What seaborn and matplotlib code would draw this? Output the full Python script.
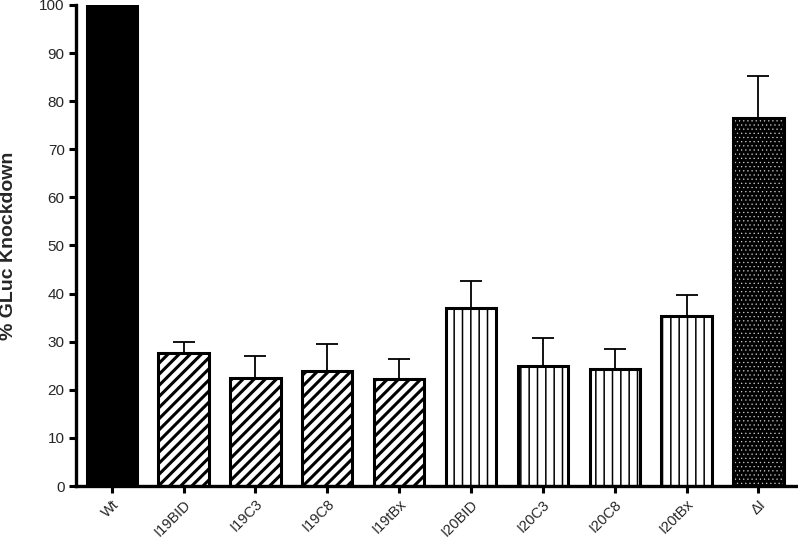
import numpy as np
import matplotlib
matplotlib.use("Agg")
import matplotlib.pyplot as plt
import seaborn as sns

# values
groups = ["Wt", "I19BID", "I19C3", "I19C8", "I19tBx",
          "I20BID", "I20C3", "I20C8", "I20tBx", "\u0394I"]
knockdown = [100.0, 27.6, 22.4, 23.9, 22.2, 37.0, 24.9, 24.3, 35.3, 76.5]
err_upper = [0.0, 2.3, 4.6, 5.6, 4.2, 5.6, 5.9, 4.2, 4.4, 8.7]
styles = ["solid", "diag", "diag", "diag", "diag",
          "vert", "vert", "vert", "vert", "dots"]

sns.set_style("ticks")
plt.rcParams["font.family"] = ["Liberation Sans", "DejaVu Sans"]
plt.rcParams["hatch.linewidth"] = 2.2

fig = plt.figure(figsize=(7.98, 5.47), dpi=100)
ax = fig.add_axes([0.095, 0.1115, 0.905, 0.8795])

sns.barplot(x=groups, y=knockdown, ax=ax, width=0.7, color="white",
            edgecolor="black", linewidth=2.2, saturation=1, errorbar=None)

for p, st in zip(ax.patches, styles):
    if st == "solid":
        p.set_facecolor("black")
    elif st == "diag":
        p.set_facecolor("white")
        p.set_hatch("///")
    elif st == "vert":
        p.set_facecolor("white")
        p.set_hatch("||")
        if hasattr(p, "set_hatch_linewidth"):
            p.set_hatch_linewidth(1.1)
    elif st == "dots":
        p.set_facecolor("black")
        p.set_edgecolor("#d0d0d0")
        p.set_hatch("....")
        if hasattr(p, "set_hatch_linewidth"):
            p.set_hatch_linewidth(0.4)
        # black outline drawn over the dotted fill
        ax.add_patch(plt.Rectangle(p.get_xy(), p.get_width(), p.get_height(),
                                   fill=False, edgecolor="black", linewidth=2.2,
                                   zorder=p.get_zorder() + 0.1))

xpos = np.arange(len(groups))
ax.errorbar(xpos, knockdown, yerr=[np.zeros(len(groups)), err_upper],
            fmt="none", ecolor="black", elinewidth=1.3, capsize=8,
            capthick=1.3, zorder=0.5)

ax.set_ylim(0, 100)
ax.set_xlim(-0.5, 9.55)
ax.set_yticks(range(0, 101, 10))
ax.set_ylabel("% GLuc Knockdown", fontsize=14, fontweight="bold", labelpad=16)
ax.tick_params(axis="y", labelsize=11, width=2.2, length=5, color="black", pad=3)
ax.tick_params(axis="x", labelsize=10.5, width=2.2, length=5, color="black", pad=3)
plt.setp(ax.get_xticklabels(), rotation=45, ha="right", rotation_mode="anchor")
for side in ["left", "bottom"]:
    ax.spines[side].set_linewidth(2.4)
    ax.spines[side].set_color("black")
sns.despine(ax=ax)

fig.savefig("out.png", dpi=100)
